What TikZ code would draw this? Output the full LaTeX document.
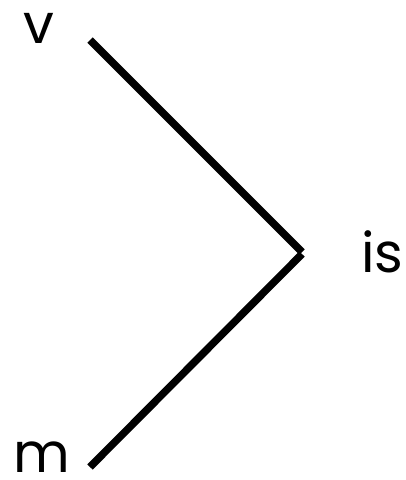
\documentclass[tikz,border=0pt]{standalone}
\usepackage{fontspec}
\setmainfont{Poppins}
\tikzset{lbl/.style={font=\fontsize{55}{60}\selectfont, inner sep=0pt, anchor=base},
  edge/.style={line width=7.5pt, line cap=butt}}
\begin{document}
\begin{tikzpicture}[x=1pt,y=-1pt]
\useasboundingbox (0,0) rectangle (406,480);
\node[lbl] (v) at (39,43) {v};
\node[lbl] (is) at (382.5,272) {is};
\node[lbl] (m) at (41.5,472) {m};
\coordinate (a) at (90,40);
\coordinate (j1) at (302,252);
\coordinate (j2) at (302,254);
\coordinate (b) at (90,467);
\draw[edge] (a) -- (j1);
\draw[edge] (j2) -- (b);
\end{tikzpicture}
\end{document}
